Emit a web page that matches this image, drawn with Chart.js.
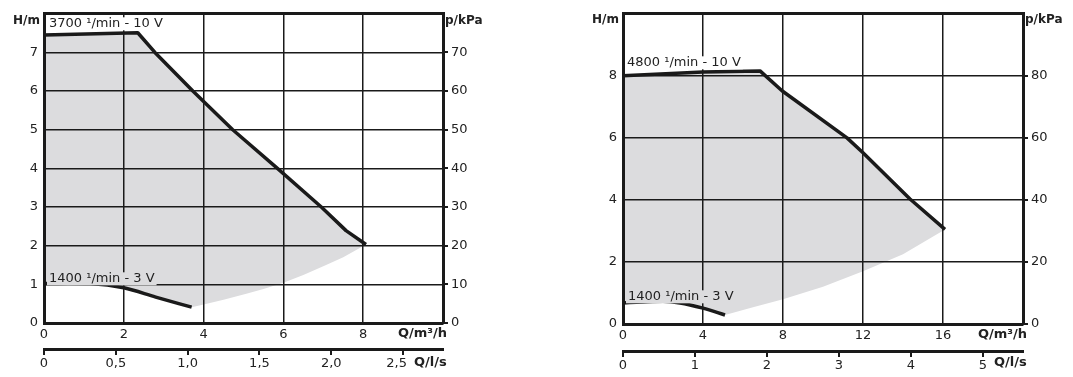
<!DOCTYPE html>
<html><head><meta charset="utf-8">
<script src="https://cdn.jsdelivr.net/npm/chart.js@4/dist/chart.umd.min.js"></script>
<style>
html,body{margin:0;padding:0;background:#fff;}
#wrap{position:relative;width:1073px;height:377px;overflow:hidden;background:#fff}
canvas{position:absolute;top:0}
</style></head><body>
<div id="wrap">
<canvas id="c1" width="560" height="377" style="left:0"></canvas>
<canvas id="c2" width="513" height="377" style="left:560px"></canvas>
</div>
<script>
// ---- Left chart data (Q in m³/h, H in m) ----
const leftHighQ = [0, 2.35, 2.78, 3.73, 4.73, 5.85, 6.95, 7.57, 8.07];
const leftHighH = [7.45, 7.51, 7.0, 6.0, 5.0, 4.0, 3.0, 2.39, 2.03];
const leftLowQ = [0, 0.6, 1.15, 2.0, 2.8, 3.7];
const leftLowH = [1.02, 1.03, 1.02, 0.91, 0.67, 0.41];
const leftLimitQ = [3.7, 4.0, 4.5, 5.07, 5.5, 6.0, 6.5, 7.07, 7.5, 8.07];
const leftLimitH = [0.41, 0.48, 0.6, 0.76, 0.88, 1.04, 1.24, 1.5, 1.7, 2.03];
const leftLsTicks = [0, 0.5, 1.0, 1.5, 2.0, 2.5];
const leftHighLabel = '3700 ¹/min - 10 V';
const leftLowLabel = '1400 ¹/min - 3 V';

// ---- Right chart data ----
const rightHighQ = [0, 4, 6.85, 7.95, 11.2, 12.0, 14.35, 16.1];
const rightHighH = [8.0, 8.12, 8.16, 7.52, 6.0, 5.52, 4.03, 3.05];
const rightLowQ = [0, 1, 2, 2.85, 4, 5.1];
const rightLowH = [0.68, 0.71, 0.73, 0.68, 0.51, 0.29];
const rightLimitQ = [5.1, 6.5, 8, 10, 12, 14, 16.1];
const rightLimitH = [0.29, 0.54, 0.8, 1.2, 1.7, 2.25, 3.05];
const rightLsTicks = [0, 1, 2, 3, 4, 5];
const rightHighLabel = '4800 ¹/min - 10 V';
const rightLowLabel = '1400 ¹/min - 3 V';

// axis units
const unitH = 'H/m', unitP = 'p/kPa', unitQ = 'Q/m³/h', unitQs = 'Q/l/s';

const black = '#1a1a1a';
const textColor = '#222';
const shade = '#dcdcde';
Chart.defaults.font.family = '"DejaVu Sans", sans-serif';
Chart.defaults.font.size = 13;
Chart.defaults.color = textColor;

function pts(q, h) { return q.map((v, i) => ({x: v, y: h[i]})); }
function polygon(hq, hh, lq, lh, wq, wh) {
  return pts(hq, hh).concat(pts(lq, lh).reverse(), pts(wq, wh).reverse());
}
function comma(v) { return v === 0 ? '0' : v.toFixed(1).replace('.', ','); }

const textPlugin = {
  id: 'curveText',
  afterDraw(chart, args, o) {
    const ctx = chart.ctx, a = chart.chartArea, x2 = chart.scales.x2;
    ctx.save();
    ctx.textBaseline = 'middle';
    ctx.fillStyle = textColor;
    ctx.font = 'bold 12px "DejaVu Sans"';
    ctx.textAlign = 'right';
    ctx.fillText(unitH, a.left - 4, a.top + o.unitDy);
    ctx.textAlign = 'left';
    ctx.fillText(unitP, a.right + 2, a.top + o.unitDy);
    ctx.font = 'bold 13px "DejaVu Sans"';
    ctx.fillText(unitQ, a.right - 45, a.bottom + 11);
    ctx.fillText(unitQs, a.right - 29, x2.top + o.qsDy);
    ctx.font = '13px "DejaVu Sans"';
    for (const L of o.items) {
      const w = ctx.measureText(L.text).width;
      const x = a.left + L.dx, y = a.top + L.dy;
      ctx.fillStyle = L.bg;
      ctx.fillRect(x - 2, y - 6.5, w + 4, 13);
      ctx.fillStyle = textColor;
      ctx.fillText(L.text, x, y);
    }
    ctx.restore();
  }
};

function makeChart(id, c) {
  const gridW = (ctx) => (ctx.tick && ctx.tick.value === c.hMax) ? 3 : 1.5;
  const lineStyle = {borderColor: black, borderWidth: 3.5, pointRadius: 0, fill: false, borderCapStyle: 'butt', borderJoinStyle: 'round'};
  return new Chart(document.getElementById(id), {
    type: 'line',
    data: { datasets: [
      { data: polygon(c.hq, c.hh, c.wq, c.wh, c.lq, c.lh), fill: 'shape', backgroundColor: shade, borderWidth: 0, pointRadius: 0, tension: 0, order: 3 },
      Object.assign({ data: pts(c.hq, c.hh), tension: 0, order: 1 }, lineStyle),
      Object.assign({ data: pts(c.lq, c.lh), cubicInterpolationMode: 'monotone', order: 1 }, lineStyle)
    ]},
    options: {
      responsive: false, animation: false, events: [],
      layout: { padding: { top: c.top, left: 0, right: 0, bottom: 0 } },
      plugins: { legend: {display: false}, tooltip: {enabled: false},
        curveText: { items: c.items, unitDy: c.unitDy, qsDy: c.qsDy } },
      scales: {
        x: { type: 'linear', position: 'bottom', min: 0, max: c.qMax,
          ticks: { stepSize: c.qStep, autoSkip: false, maxRotation: 0, padding: 4,
            callback: v => v === c.qMax ? '' : String(v) },
          grid: { color: black, lineWidth: 1.5, drawTicks: false, z: 1 },
          border: { display: true, color: black, width: 3, z: 2 },
          afterFit: s => { s.height = c.xH; } },
        x2: { type: 'linear', position: 'bottom', min: 0, max: c.qMax / 3.6,
          ticks: { autoSkip: false, maxRotation: 0, padding: 1,
            callback: (v, i, t) => {
              const s = c.lsComma ? comma(v) : String(v);
              return (c.lsComma && i === t.length - 1) ? s + '\u2002\u2002' : s;
            } },
          grid: { drawOnChartArea: false, drawTicks: true, tickLength: 6, color: black, lineWidth: 2, z: 1 },
          border: { display: true, color: black, width: 3, z: 2 },
          afterBuildTicks: s => { s.ticks = c.lsTicks.map(v => ({ value: v })); },
          afterFit: s => { s.height = c.x2H; } },
        y: { type: 'linear', position: 'left', min: 0, max: c.hMax,
          ticks: { stepSize: c.hStep, autoSkip: false, padding: 6,
            callback: v => v === c.hMax ? '' : String(v) },
          grid: { color: black, lineWidth: gridW, drawTicks: false, z: 1 },
          border: { display: true, color: black, width: 3, z: 2 },
          afterFit: s => { s.width = c.yW; } },
        y2: { type: 'linear', position: 'right', min: 0, max: c.hMax * 10,
          ticks: { stepSize: c.pStep, autoSkip: false, padding: 3 },
          grid: { drawOnChartArea: false, drawTicks: true, tickLength: 5, color: black, lineWidth: 2, z: 1 },
          border: { display: true, color: black, width: 3, z: 2 },
          afterBuildTicks: s => { s.ticks = s.ticks.filter(t => t.value < c.hMax * 10); },
          afterFit: s => { s.width = c.y2W; } }
      }
    },
    plugins: [textPlugin]
  });
}

makeChart('c1', {
  hq: leftHighQ, hh: leftHighH, lq: leftLowQ, lh: leftLowH, wq: leftLimitQ, wh: leftLimitH,
  lsTicks: leftLsTicks, lsComma: true,
  qMax: 10, qStep: 2, hMax: 8, hStep: 1, pStep: 10,
  top: 8, xH: 26, x2H: 28, yW: 44, y2W: 117, unitDy: 7, qsDy: 14,
  items: [
    { text: leftHighLabel, dx: 5, dy: 10, bg: '#ffffff' },
    { text: leftLowLabel, dx: 5, dy: 265, bg: shade }
  ]
});
makeChart('c2', {
  hq: rightHighQ, hh: rightHighH, lq: rightLowQ, lh: rightLowH, wq: rightLimitQ, wh: rightLimitH,
  lsTicks: rightLsTicks, lsComma: false,
  qMax: 20, qStep: 4, hMax: 10, hStep: 2, pStep: 20,
  top: 9, xH: 27, x2H: 26, yW: 63, y2W: 50, unitDy: 6, qsDy: 12,
  items: [
    { text: rightHighLabel, dx: 4, dy: 49, bg: '#ffffff' },
    { text: rightLowLabel, dx: 5, dy: 283, bg: shade }
  ]
});
</script>
</body></html>
